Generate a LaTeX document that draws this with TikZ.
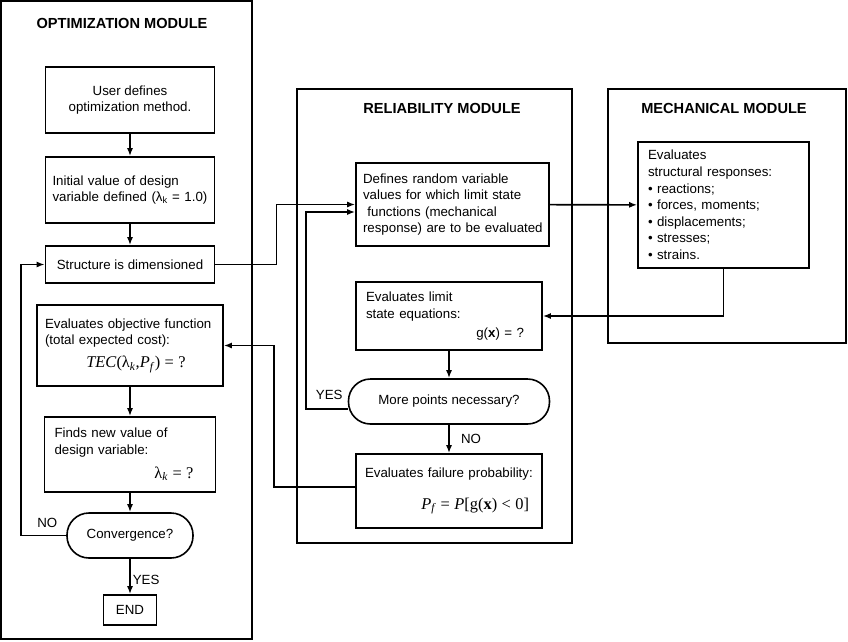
\documentclass[tikz,border=0pt]{standalone}
\usepackage{fontspec}
\setmainfont{Liberation Sans}
\newfontfamily\tms{Liberation Serif}
\usetikzlibrary{arrows.meta}
\newcommand{\mth}{\tms\fontsize{16.4}{18}\selectfont}
\newcommand{\tec}{{\mth\textit{TEC}(λ\textsubscript{\textit{k}},\textit{P}\textsubscript{\textit{f}}) = ?}}
\newcommand{\lamk}{{\mth λ\textsubscript{\textit{k}} = ?}}
\newcommand{\pfail}{{\mth\textit{P}\textsubscript{\textit{f}} = \textit{P}[g(\textbf{x}) < 0]}}
\newcommand{\rline}[2]{\hbox to\hsize{\hfil #2\hspace{#1}}}

\begin{document}
\begin{tikzpicture}[x=1pt,y=-1pt,>={Latex[length=8pt,width=6pt]},
  font=\fontsize{13.3}{16.6}\selectfont,
  box/.style={draw,line width=1.6pt,inner sep=0pt,align=left},
  term/.style={draw,line width=1.6pt,inner sep=0pt,rounded corners=22pt,align=center},
  module/.style={draw,line width=2.4pt},
  title/.style={font=\fontsize{14.6}{16}\selectfont\bfseries},
  conn/.style={line width=1.6pt}]
\useasboundingbox (0,0) rectangle (848,641);

% modules
\draw[module] (1.2,1.2) rectangle (252,639);
\draw[module] (297,89) rectangle (572,543);
\draw[module] (608,89) rectangle (846,343);
\node[title] (topt) at (122,23) {OPTIMIZATION MODULE};
\node[title] (trel) at (442,108) {RELIABILITY MODULE};
\node[title] (tmech) at (724,108) {MECHANICAL MODULE};

% optimization
\node[box,minimum width=169,minimum height=66,align=center] (usr) at (130,100)
  {User defines\\optimization method.};
\node[box,minimum width=169,minimum height=66,text width=155] (init) at (130,190)
  {Initial value of design\\variable defined (λ\textsubscript{k} = 1.0)};
\node[box,minimum width=169,minimum height=37,align=center] (dim) at (130,264.5)
  {Structure is dimensioned};
\node[box,minimum width=186,minimum height=81,text width=170] (obj) at (130,345.5)
  {Evaluates objective function\\(total expected cost):\\[6pt]\hbox to\hsize{\hfil\hspace{12pt}\tec\hfil}};
\node[box,minimum width=171,minimum height=75,text width=151] (fnd) at (130,454.5)
  {Finds new value of\\design variable:\\[7pt]\rline{12pt}{\lamk}};
\node[term,minimum width=126,minimum height=45] (conv) at (130,535.5) {Convergence?};
\node[box,minimum width=53,minimum height=30,align=center] (fin) at (130,610) {END};

% reliability
\node[box,minimum width=193,minimum height=83,text width=179] (dfn) at (452.5,204.5)
  {Defines random variable\\values for which limit state\\\ functions (mechanical\\\mbox{response) are to be evaluated}};
\node[box,minimum width=186,minimum height=68,text width=166] (lim) at (449,316)
  {Evaluates limit\\state equations:\\[2pt]\rline{8pt}{g(\textbf{x}) = ?}};
\node[term,minimum width=201,minimum height=45] (more) at (449,401.5) {More points necessary?};
\node[box,minimum width=186,minimum height=74,text width=168] (fail) at (449,491)
  {Evaluates failure probability:\\[15pt]\rline{4pt}{\pfail}};

% mechanical
\node[box,minimum width=171,minimum height=126,text width=151] (mech) at (723.5,205)
  {Evaluates\\structural responses:\\• reactions;\\• forces, moments;\\• displacements;\\• stresses;\\• strains.};

\path[->,conn]
  (usr) edge (init)
  (init) edge (dim)
  (obj) edge (fnd)
  (fnd) edge (conv)
  (conv) edge node[right,pos=0.6,inner sep=2pt] {YES} (fin)
  (lim) edge (more)
  (more) edge node[right,xshift=8pt] {NO} (fail)
  (dfn) edge (mech);
\draw[->,conn] (conv.west) -- ++(-45,0) node[pos=0.42,above,yshift=4pt] {NO} |- (dim.west);
\draw[->,conn] (dim.east) -- ++(61,0) |- (dfn.west);
\draw[->,conn] ([yshift=-7.5pt]more.west) -- ++(-42,0) node[pos=0.44,above,yshift=5pt] {YES}
  |- ([yshift=-7.5pt]dfn.west);
\draw[->,conn] ([yshift=4pt]fail.west) -- ++(-81,0) |- (obj.east);
\draw[->,conn] (mech.south) |- (lim.east);
\end{tikzpicture}
\end{document}
